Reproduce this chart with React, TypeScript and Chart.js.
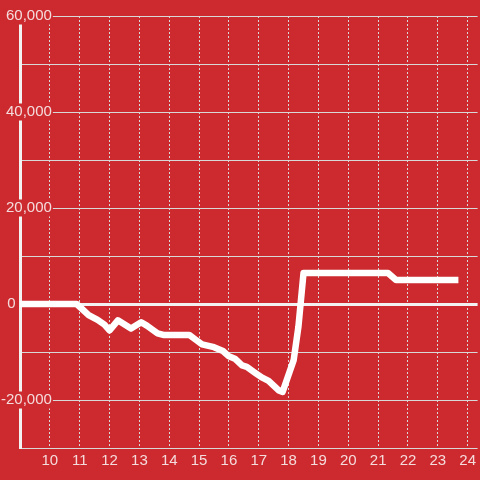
import React, { useEffect, useRef } from "react";
import { Chart, registerables } from "chart.js";

Chart.register(...registerables);

const xValues = [9, 10.9, 11.3, 11.6, 11.83, 12.0, 12.28, 12.72, 13.06, 13.25, 13.61, 13.8, 14.67, 14.9, 15.1, 15.5, 15.8, 16.0, 16.2, 16.44, 16.6, 16.89, 17.1, 17.33, 17.5, 17.67, 17.8, 18.17, 18.33, 18.5, 21.33, 21.6, 23.69];
const yValues = [0, 0, -2300, -3300, -4300, -5500, -3400, -5100, -3800, -4500, -6100, -6450, -6450, -7500, -8400, -9000, -9800, -10900, -11400, -12800, -13100, -14400, -15300, -16000, -17000, -18000, -18300, -11700, -4700, 6450, 6450, 5000, 5000];
const xTicks = [9, 10, 11, 12, 13, 14, 15, 16, 17, 18, 19, 20, 21, 22, 23, 24];
const yTicks = [-30000, -20000, -10000, 0, 10000, 20000, 30000, 40000, 50000, 60000];
const yLabelled = [-20000, 0, 20000, 40000, 60000];

const BG = "#cc2a2f";
const TEXT = "#f5dcdc";
const GRID = "#d8d8d8";
const WHITE = "#f2f2f2";
const FONT = "'Liberation Sans', Arial, sans-serif";

function yLabel(v: number): string {
  if (!yLabelled.includes(v)) return "";
  if (v === 0) return "0" + "\u2007".repeat(4) + "\u2009";
  return v.toLocaleString("en-US");
}

export default function App() {
  const ref = useRef<HTMLCanvasElement>(null);
  useEffect(() => {
    if (!ref.current) return;
    const chart = new Chart(ref.current, {
      type: "line",
      data: {
        datasets: [
          {
            data: xValues.map((x, i) => ({ x, y: yValues[i] })),
            borderColor: "#ffffff",
            borderWidth: 6.5,
            pointRadius: 0,
            tension: 0,
            borderJoinStyle: "round",
            borderCapStyle: "butt",
          },
        ],
      },
      options: {
        animation: false,
        responsive: false,
        maintainAspectRatio: false,
        layout: { padding: { top: 16, right: 0, left: 0, bottom: 0 } },
        plugins: { legend: { display: false }, tooltip: { enabled: false } },
        scales: {
          x: {
            type: "linear",
            min: 9,
            max: 9 + 460 / 30,
            afterBuildTicks: (s: any) => {
              s.ticks = xTicks.map((v) => ({ value: v }));
            },
            afterFit: (s: any) => {
              s.height = 32;
            },
            grid: { color: GRID, lineWidth: 1, drawTicks: false },
            border: { display: false, dash: [2, 2] },
            ticks: {
              autoSkip: false,
              maxRotation: 0,
              padding: 4,
              color: TEXT,
              font: { family: FONT, size: 15, lineHeight: 1.2 },
              callback: (v: any) => (v === 9 ? "" : String(v)),
            },
          },
          y: {
            type: "linear",
            min: -30000,
            max: 60000,
            afterBuildTicks: (s: any) => {
              s.ticks = yTicks.map((v) => ({ value: v }));
            },
            afterFit: (s: any) => {
              s.width = 20;
            },
            grid: {
              drawTicks: false,
              color: (c: any) => (c.tick && c.tick.value === 0 ? WHITE : GRID),
              lineWidth: (c: any) => (c.tick && c.tick.value === 0 ? 3 : 1),
            },
            border: { display: true, color: WHITE, width: 3 },
            ticks: {
              autoSkip: false,
              mirror: true,
              crossAlign: "far",
              padding: -19,
              color: TEXT,
              font: { family: FONT, size: 15, lineHeight: 1 },
              showLabelBackdrop: (c: any) =>
                yLabelled.includes(c.tick.value) && c.tick.value !== 0,
              backdropColor: BG,
              backdropPadding: { top: 1, bottom: 1, left: 2, right: 1 },
              callback: (v: any) => yLabel(Number(v)),
            },
          },
        },
      },
    });
    return () => chart.destroy();
  }, []);
  return (
    <div
      style={{
        position: "fixed",
        left: 0,
        top: 0,
        width: 480,
        height: 480,
        background: BG,
      }}
    >
      <canvas ref={ref} width={480} height={480} style={{ display: "block" }} />
    </div>
  );
}
